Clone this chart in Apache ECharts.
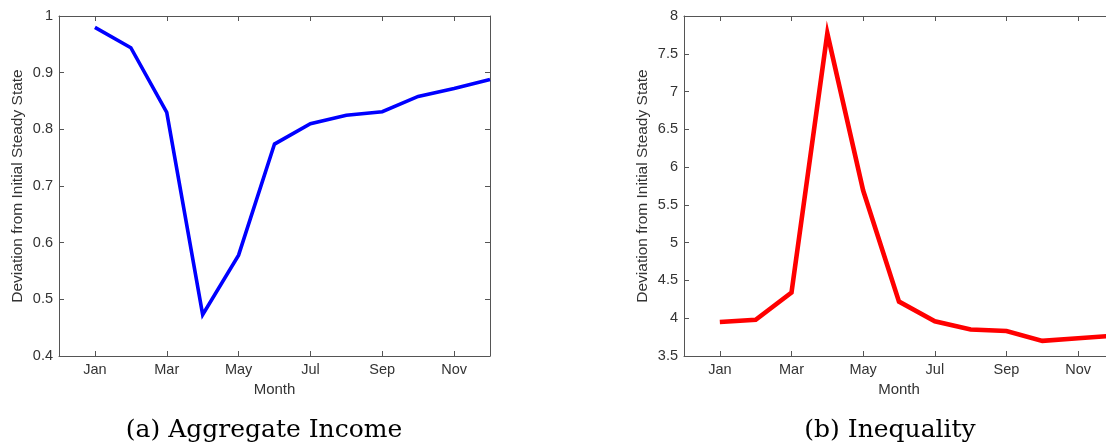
<!DOCTYPE html>
<html>
<head>
<meta charset="utf-8">
<script src="https://cdn.jsdelivr.net/npm/echarts@6/dist/echarts.min.js"></script>
<style>
  html, body { margin: 0; padding: 0; background: #fff; }
  #chart { width: 1106px; height: 448px; }
</style>
</head>
<body>
<div id="chart"></div>
<script>
// Month names; month k sits at x = k (1..12) on a 0..12 axis
const months = ['Jan', 'Feb', 'Mar', 'Apr', 'May', 'Jun', 'Jul', 'Aug', 'Sep', 'Oct', 'Nov', 'Dec'];
const labelledMonths = [1, 3, 5, 7, 9, 11];

// (a) Aggregate income, deviation from initial steady state
const incomeValues = [0.980, 0.944, 0.830, 0.473, 0.578, 0.774, 0.810, 0.825, 0.831, 0.858, 0.872, 0.888];
const incomeTicks = ['0.4', '0.5', '0.6', '0.7', '0.8', '0.9', '1'];

// (b) Inequality, deviation from initial steady state
const inequalityValues = [3.95, 3.98, 4.34, 7.77, 5.69, 4.22, 3.96, 3.85, 3.83, 3.70, 3.735, 3.77];
const inequalityTicks = ['3.5', '4', '4.5', '5', '5.5', '6', '6.5', '7', '7.5', '8'];

const captions = ['(a) Aggregate Income', '(b) Inequality'];
const yName = 'Deviation from Initial Steady State';
const xName = 'Month';

const textColor = '#333';
const lineColor = '#555';
const sans = "'Liberation Sans', Arial, sans-serif";

const toPoints = vals => vals.map((v, i) => [i + 1, v]);

function xAxes(gridIndex) {
  const base = {
    type: 'value', gridIndex, min: 0, max: 12,
    splitLine: { show: false },
    axisLine: { show: true, onZero: false, lineStyle: { color: lineColor, width: 1 } },
    axisTick: { show: true, inside: true, length: 5, customValues: labelledMonths, lineStyle: { color: lineColor } }
  };
  return [
    Object.assign({}, base, {
      position: 'bottom',
      name: xName, nameLocation: 'middle', nameGap: 23,
      nameTextStyle: { color: textColor, fontSize: 15, fontFamily: sans },
      axisLabel: {
        customValues: labelledMonths, margin: 6,
        color: textColor, fontSize: 14.5, fontFamily: sans,
        formatter: v => months[v - 1]
      }
    }),
    Object.assign({}, base, { position: 'top', axisLabel: { show: false } })
  ];
}

function yAxes(gridIndex, min, max, interval, ticks) {
  const base = {
    type: 'value', gridIndex, min, max, interval,
    splitLine: { show: false },
    axisLine: { show: true, onZero: false, lineStyle: { color: lineColor, width: 1 } },
    axisTick: { show: true, inside: true, length: 5, lineStyle: { color: lineColor } }
  };
  return [
    Object.assign({}, base, {
      position: 'left',
      name: yName, nameLocation: 'middle', nameGap: 33, nameRotate: 90,
      nameTextStyle: { color: textColor, fontSize: 15.5, fontFamily: sans },
      axisLabel: {
        margin: 6, color: textColor, fontSize: 14.5, fontFamily: sans,
        formatter: v => ticks[Math.round((v - min) / interval)]
      }
    }),
    Object.assign({}, base, { position: 'right', axisLabel: { show: false } })
  ];
}

const chart = echarts.init(document.getElementById('chart'), null, { renderer: 'canvas' });

chart.setOption({
  animation: false,
  backgroundColor: '#fff',
  grid: [
    { left: 59, top: 16, width: 431, height: 340, outerBoundsMode: 'none' },
    // the second panel runs past the right edge of the canvas
    { left: 684, top: 16, width: 430, height: 340, outerBoundsMode: 'none' }
  ],
  xAxis: [...xAxes(0), ...xAxes(1)],
  yAxis: [
    ...yAxes(0, 0.4, 1.0, 0.1, incomeTicks),
    ...yAxes(1, 3.5, 8.0, 0.5, inequalityTicks)
  ],
  series: [
    {
      type: 'line', xAxisIndex: 0, yAxisIndex: 0,
      data: toPoints(incomeValues),
      showSymbol: false, silent: true,
      lineStyle: { color: '#0000ff', width: 3.6, join: 'miter' }
    },
    {
      type: 'line', xAxisIndex: 2, yAxisIndex: 2,
      data: toPoints(inequalityValues),
      showSymbol: false, silent: true,
      lineStyle: { color: '#ff0000', width: 4.6, join: 'miter' }
    }
  ],
  graphic: [
    {
      type: 'text', x: 264, y: 430,
      style: { text: captions[0], fill: '#000', font: "25px 'DejaVu Serif', serif", align: 'center', verticalAlign: 'middle' }
    },
    {
      type: 'text', x: 890, y: 430,
      style: { text: captions[1], fill: '#000', font: "25px 'DejaVu Serif', serif", align: 'center', verticalAlign: 'middle' }
    }
  ]
});
</script>
</body>
</html>
